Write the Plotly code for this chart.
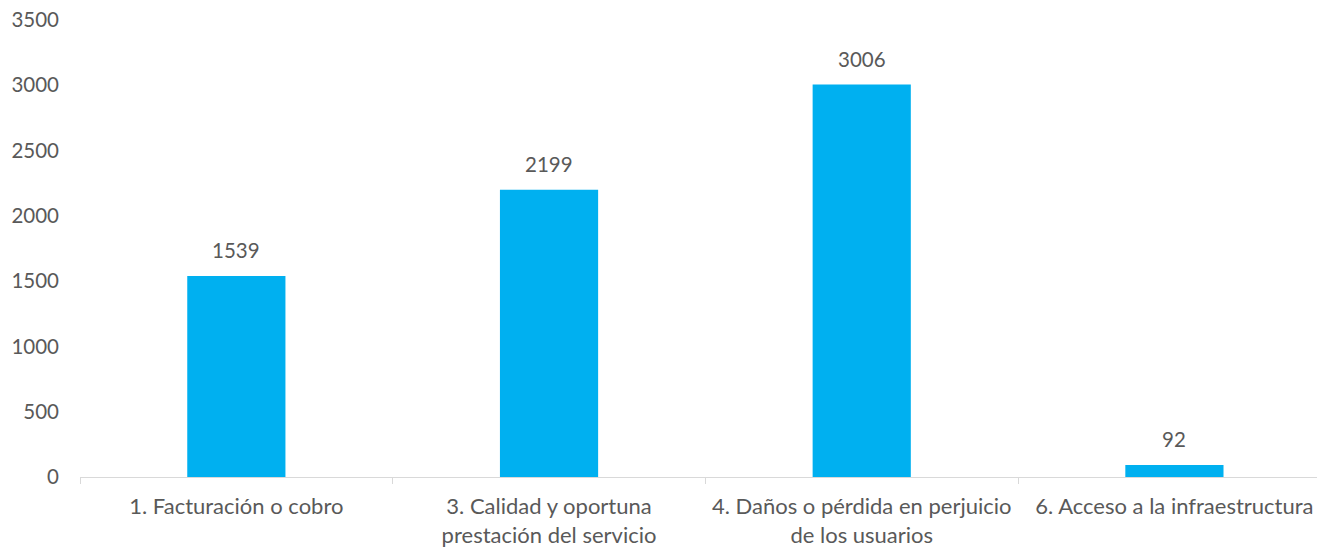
import plotly.graph_objects as go

categories = [
    "1. Facturación o cobro",
    "3. Calidad y oportuna<br>prestación del servicio",
    "4. Daños o pérdida en perjuicio<br>de los usuarios",
    "6. Acceso a la infraestructura",
]
values = [1539, 2199, 3006, 92]
y_ticks = [0, 500, 1000, 1500, 2000, 2500, 3000, 3500]

FONT = "Lato"
TXT = "#595959"

fig = go.Figure(
    go.Bar(
        x=categories,
        y=values,
        width=0.314,
        marker=dict(color="#00B0F0", line=dict(width=0)),
        hoverinfo="skip",
    )
)

for c, v in zip(categories, values):
    fig.add_annotation(
        x=c, y=v, text=str(v), showarrow=False,
        yanchor="bottom", yshift=12,
        font=dict(family=FONT, size=20.5, color=TXT),
    )

fig.update_layout(
    width=1317, height=548,
    margin=dict(l=80, r=0, t=20, b=71, autoexpand=False),
    paper_bgcolor="white", plot_bgcolor="white",
    showlegend=False,
    font=dict(family=FONT, size=20, color=TXT),
)
fig.update_xaxes(
    type="category",
    range=[-0.5, 3.456],
    showline=True, linecolor="#D9D9D9", linewidth=1,
    ticks="outside", tickson="boundaries", ticklen=6, tickcolor="#D9D9D9",
    showgrid=False, automargin=False,
    ticklabelstandoff=10,
    tickfont=dict(family=FONT, size=22, color=TXT),
)
fig.update_yaxes(
    range=[0, 3500], tickvals=y_ticks,
    showgrid=False, zeroline=False, showline=False, automargin=False,
    ticks="", ticklabelstandoff=20,
    tickfont=dict(family=FONT, size=20.5, color=TXT),
)

fig.write_html(
    "out.html",
    config={"displayModeBar": False, "staticPlot": True},
    post_script="document.body.style.margin='0';document.body.style.overflow='hidden';",
)
